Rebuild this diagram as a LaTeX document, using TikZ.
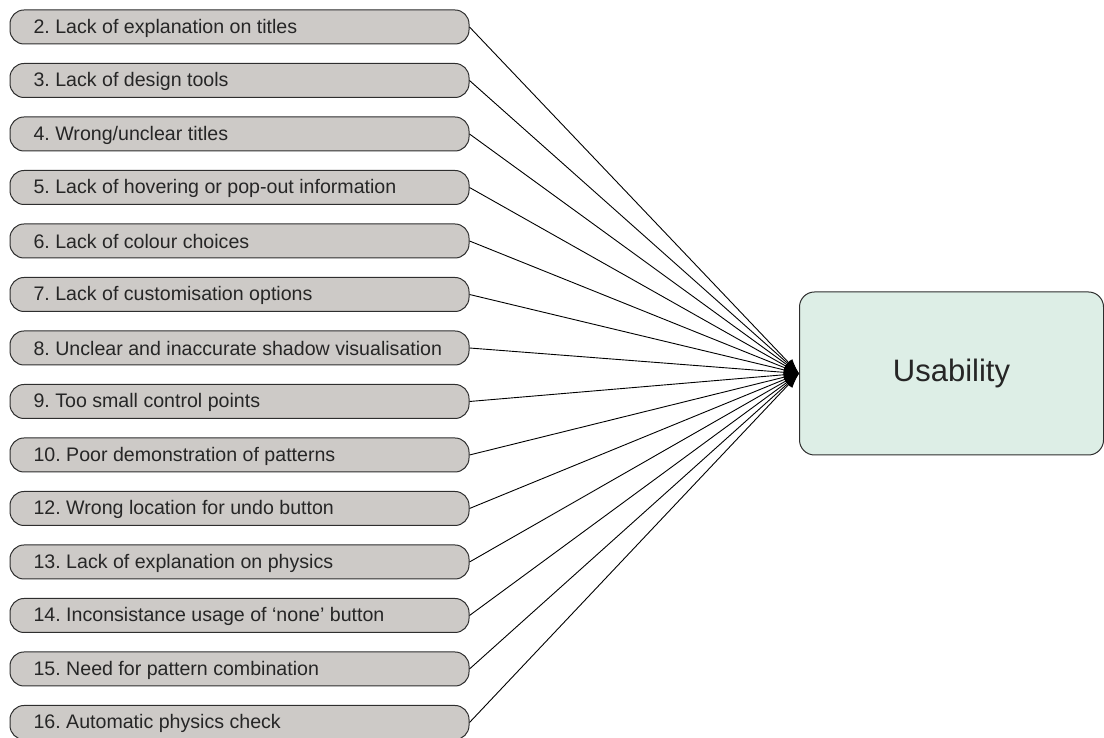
\documentclass[tikz,border=0pt]{standalone}
\usepackage{fontspec}
\setmainfont{Liberation Sans}
\usetikzlibrary{arrows.meta}
\definecolor{itemfill}{HTML}{CDCAC7}
\definecolor{goalfill}{HTML}{DDEEE6}
\definecolor{edge}{HTML}{2E2E2E}
\frenchspacing
\tikzset{
  item/.style={draw=edge, line width=1pt, fill=itemfill, rounded corners=14pt,
    minimum width=459pt, minimum height=34pt, inner sep=0pt},
  itemtext/.style={anchor=west, font=\fontsize{19.6}{22}\selectfont, text=black!85},
  goal/.style={draw=edge, line width=1pt, fill=goalfill, rounded corners=15pt,
    minimum width=304pt, minimum height=163pt, inner sep=0pt,
    font=\fontsize{31}{35}\selectfont, text=black!85},
  link/.style={draw=black, line width=0.9pt, -{Latex[length=15pt,width=10pt]}}
}
\begin{document}
\begin{tikzpicture}[x=1pt,y=1pt]
  \useasboundingbox (0,0) rectangle (1104,738);
  % target concept
  \node[goal] (u) at (951.5,364.5) {Usability};
  % contributing issues, one per row
  \foreach \lab [count=\k from 0] in {
      2. Lack of explanation on titles,
      3. Lack of design tools,
      4. Wrong/unclear titles,
      5. Lack of hovering or pop-out information,
      6. Lack of colour choices,
      7. Lack of customisation options,
      8. Unclear and inaccurate shadow visualisation,
      9. Too small control points,
      10. Poor demonstration of patterns,
      12. Wrong location for undo button,
      13. Lack of explanation on physics,
      14. Inconsistance usage of ‘none’ button,
      15. Need for pattern combination,
      16. Automatic physics check} {
    \pgfmathsetmacro{\yy}{711-53.5*\k}
    \node[item] (b\k) at (239.5,\yy) {};
    \node[itemtext] (t\k) at (30,\yy-1) {\lab};
  }
  \foreach \k in {0,...,13} {
    \draw[link] (b\k.east) -- (u.west);
  }
\end{tikzpicture}
\end{document}
